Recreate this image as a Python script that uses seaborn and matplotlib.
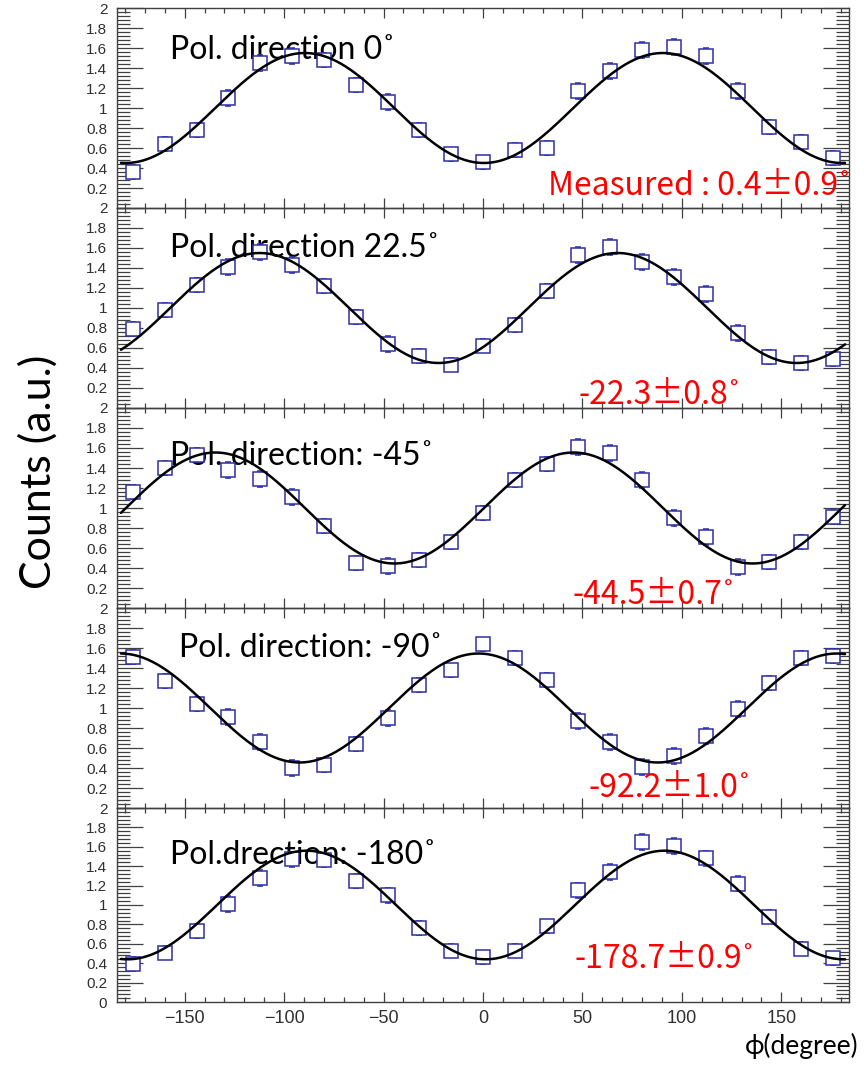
import numpy as np
import pandas as pd
import matplotlib
matplotlib.use("Agg")
import matplotlib.pyplot as plt
import seaborn as sns
from matplotlib.ticker import MultipleLocator, FixedLocator, FuncFormatter

# ---------------- data ----------------
phi_deg = [-176, -160, -144, -128, -112, -96, -80, -64, -48, -32, -16, 0,
           16, 32, 48, 64, 80, 96, 112, 128, 144, 160, 176]

counts_pol_0 = [0.36, 0.64, 0.78, 1.10, 1.45, 1.52, 1.48, 1.23, 1.06, 0.78, 0.54, 0.46,
                0.58, 0.60, 1.17, 1.37, 1.58, 1.61, 1.52, 1.17, 0.81, 0.66, 0.50]
counts_pol_22 = [0.79, 0.98, 1.23, 1.41, 1.56, 1.43, 1.22, 0.91, 0.64, 0.52, 0.43, 0.62,
                 0.83, 1.17, 1.53, 1.61, 1.46, 1.31, 1.14, 0.75, 0.51, 0.45, 0.49]
counts_pol_m45 = [1.16, 1.40, 1.53, 1.38, 1.29, 1.11, 0.82, 0.45, 0.42, 0.48, 0.66, 0.95,
                  1.28, 1.44, 1.61, 1.55, 1.28, 0.90, 0.71, 0.41, 0.46, 0.66, 0.91]
counts_pol_m90 = [1.51, 1.27, 1.04, 0.91, 0.66, 0.40, 0.43, 0.64, 0.90, 1.23, 1.38, 1.64,
                  1.50, 1.28, 0.87, 0.66, 0.41, 0.52, 0.72, 0.99, 1.25, 1.50, 1.52]
counts_pol_m180 = [0.39, 0.51, 0.73, 1.01, 1.28, 1.47, 1.46, 1.25, 1.10, 0.76, 0.53, 0.46,
                   0.53, 0.78, 1.15, 1.34, 1.65, 1.61, 1.48, 1.22, 0.88, 0.55, 0.45]

count_err = [0.07, 0.07, 0.07, 0.08, 0.08, 0.08, 0.07, 0.07, 0.08, 0.07, 0.065, 0.065,
             0.07, 0.07, 0.08, 0.08, 0.08, 0.08, 0.08, 0.08, 0.07, 0.07, 0.07]

panel_titles = ["Pol. direction 0\u02da", "Pol. direction 22.5\u02da",
                "Pol. direction: -45\u02da", "Pol. direction: -90\u02da",
                "Pol.drection: -180\u02da"]
fit_labels = ["Measured : 0.4\u00b10.9\u02da", "-22.3\u00b10.8\u02da", "-44.5\u00b10.7\u02da",
              "-92.2\u00b11.0\u02da", "-178.7\u00b10.9\u02da"]

# fitted modulation parameters: offset - amplitude * cos(2 (phi - phase))
fit_phase = [0.4, -22.3, -44.5, -92.2, -178.7]
fit_offset = [1.00, 1.00, 1.00, 1.00, 1.00]
fit_amp = [0.55, 0.55, 0.555, 0.545, 0.56]

x_ticks = [-150, -100, -50, 0, 50, 100, 150]
x_label = "\u03d5(degree)"
y_label = "Counts (a.u.)"

all_counts = [counts_pol_0, counts_pol_22, counts_pol_m45, counts_pol_m90, counts_pol_m180]

# ---------------- layout ----------------
W, H = 868, 1065
sns.set_theme(style="ticks")
plt.rcParams["font.family"] = ["Liberation Sans", "DejaVu Sans"]
TXT_FONT = ["Lato", "DejaVu Sans"]
RED_FONT = ["Noto Sans CJK JP", "Lato", "DejaVu Sans"]

fig = plt.figure(figsize=(W / 100, H / 100), dpi=100)
fig.patch.set_facecolor("white")

def fx(x):
    return x / W

def fy(y):
    return 1 - y / H

left_px, right_px = 117, 849
tops = [8, 208, 408, 608, 808]
bottoms = [208, 408, 608, 808, 1002]
title_pos = [(170, 50), (170, 248), (170, 456), (179, 648), (170, 855)]
fit_pos = [(548, 186), (579, 395), (572, 595), (588, 788), (574, 959)]

marker_color = "#2e2eaa"
axis_color = "#404040"

for i, counts in enumerate(all_counts):
    ax = fig.add_axes([fx(left_px), fy(bottoms[i]), fx(right_px - left_px),
                       (bottoms[i] - tops[i]) / H])
    ax.set_facecolor("none")

    df = pd.DataFrame({"phi": phi_deg, "counts": counts, "err": count_err})
    phi_fine = np.linspace(-182, 182, 500)
    fit_df = pd.DataFrame({
        "phi": phi_fine,
        "fit": fit_offset[i] - fit_amp[i] * np.cos(np.deg2rad(2 * (phi_fine - fit_phase[i]))),
    })

    ax.errorbar(df["phi"], df["counts"], yerr=df["err"], fmt="s", ms=9.5,
                mfc="white", mec=marker_color, mew=1.1, ecolor=marker_color,
                elinewidth=1.0, capsize=2.5, capthick=1.0, zorder=3)
    sns.lineplot(data=fit_df, x="phi", y="fit", ax=ax, color="black", lw=1.8, zorder=4)

    ax.set_xlim(-184, 184)
    ax.set_ylim(0, 2)
    ax.set_xlabel("")
    ax.set_ylabel("")

    # ticks like ROOT: inside, all four sides
    ax.xaxis.set_major_locator(FixedLocator(x_ticks))
    ax.xaxis.set_minor_locator(MultipleLocator(10))
    if i < 4:
        ax.yaxis.set_major_locator(FixedLocator([0.2, 0.4, 0.6, 0.8, 1.0, 1.2, 1.4, 1.6, 1.8, 2.0]))
    else:
        ax.yaxis.set_major_locator(FixedLocator([0.0, 0.2, 0.4, 0.6, 0.8, 1.0, 1.2, 1.4, 1.6, 1.8, 2.0]))
    ax.yaxis.set_minor_locator(MultipleLocator(0.04))
    ax.yaxis.set_major_formatter(FuncFormatter(lambda v, p: "%g" % round(v, 2)))

    ax.tick_params(axis="both", which="both", direction="in", top=True, right=True,
                   color=axis_color, width=0.9)
    ax.tick_params(axis="y", which="major", length=19, pad=7, labelsize=11,
                   labelcolor="#303030")
    ax.tick_params(axis="y", which="minor", length=9.5)
    ax.tick_params(axis="x", which="major", length=7, pad=6, labelsize=13,
                   labelcolor="#303030")
    ax.tick_params(axis="x", which="minor", length=3.8)
    if i < 4:
        ax.tick_params(axis="x", labelbottom=False)

    for s in ax.spines.values():
        s.set_color(axis_color)
        s.set_linewidth(1.0)

    tx, ty = title_pos[i]
    ax.text(fx(tx), fy(ty), panel_titles[i], transform=fig.transFigure,
            ha="left", va="center", fontsize=23, family=TXT_FONT, color="black",
            zorder=2, clip_on=False)
    rx, ry = fit_pos[i]
    ax.text(fx(rx), fy(ry), fit_labels[i], transform=fig.transFigure,
            ha="left", va="center", fontsize=23, family=RED_FONT, color="#ff0000",
            zorder=5, clip_on=False)

fig.text(fx(38), fy(472), y_label, rotation=90, ha="center", va="center",
         fontsize=31, family=TXT_FONT, color="black")
fig.text(fx(858), fy(1046), x_label, ha="right", va="center",
         fontsize=19, family=TXT_FONT, color="black")

fig.savefig("out.png", dpi=100, facecolor="white")
